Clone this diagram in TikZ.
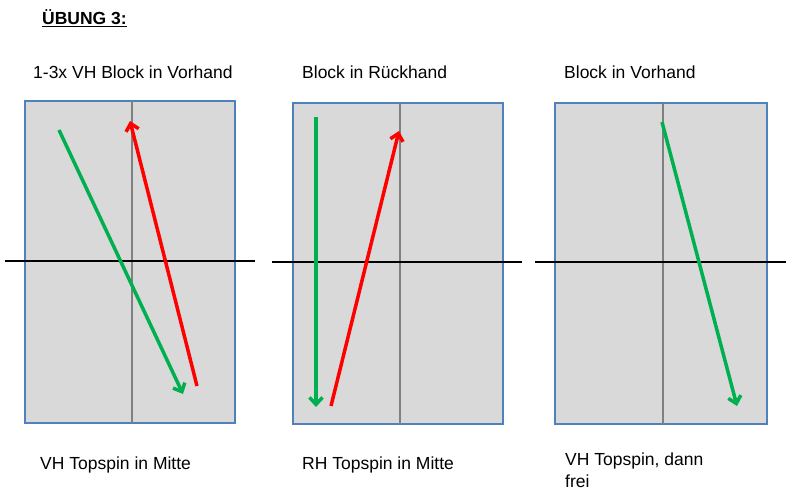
\documentclass[tikz,border=0pt]{standalone}
\usepackage{fontspec}
\setmainfont{Liberation Sans}
\usetikzlibrary{arrows.meta}
\definecolor{tblue}{RGB}{79,129,189}
\definecolor{tfill}{RGB}{217,217,217}
\definecolor{tgrey}{RGB}{128,128,128}
\definecolor{tgreen}{RGB}{0,176,80}
\definecolor{tred}{RGB}{255,0,0}
\begin{document}
\begin{tikzpicture}[x=1pt,y=-1pt,
  tablebox/.style={draw=tblue,fill=tfill,line width=1.8pt},
  midline/.style={draw=tgrey,line width=1.8pt},
  netline/.style={draw=black,line width=1.8pt},
  ball/.style={line width=3.5pt,-{Straight Barb[length=7pt,width=13pt,line width=3.5pt]}},
  lbl/.style={anchor=west,inner sep=0pt,font=\fontsize{17.5}{22}\selectfont,align=left}]
\useasboundingbox (0,0) rectangle (790,500);
\fill[white] (0,0) rectangle (790,500);
% title
\node[lbl,font=\fontsize{17.5}{22}\selectfont\bfseries] (title) at (42,18) {\underline{ÜBUNG 3:}};
% headings
\node[lbl] (h1) at (33,72) {1-3x VH Block in Vorhand};
\node[lbl] (h2) at (302,72) {Block in Rückhand};
\node[lbl] (h3) at (564,72) {Block in Vorhand};
% footers
\node[lbl] (f1) at (40,465) {VH Topspin in Mitte};
\node[lbl] (f2) at (302,465) {RH Topspin in Mitte};
\node[lbl,anchor=north west] (f3) at (565,453) {VH Topspin, dann\\frei};
% table 1
\draw[tablebox] (25,101) rectangle (235,423);
\draw[midline] (132,101) -- (132,423);
\draw[netline] (5,261) -- (255,261);
\coordinate (g1a) at (59,130); \coordinate (g1b) at (183,394);
\coordinate (r1a) at (197,386); \coordinate (r1b) at (130,121);
\draw[ball,tgreen] (g1a) -- (g1b);
\draw[ball,tred] (r1a) -- (r1b);
% table 2
\draw[tablebox] (293,103) rectangle (503,424);
\draw[midline] (400,103) -- (400,424);
\draw[netline] (272,262) -- (522,262);
\coordinate (g2a) at (316,117); \coordinate (g2b) at (316,407);
\coordinate (r2a) at (331,406); \coordinate (r2b) at (399,131);
\draw[ball,tgreen] (g2a) -- (g2b);
\draw[ball,tred] (r2a) -- (r2b);
% table 3
\draw[tablebox] (555,103) rectangle (767,424);
\draw[midline] (663,103) -- (663,424);
\draw[netline] (535,262) -- (786,262);
\coordinate (g3a) at (662,122); \coordinate (g3b) at (737,406);
\draw[ball,tgreen] (g3a) -- (g3b);
\end{tikzpicture}
\end{document}
